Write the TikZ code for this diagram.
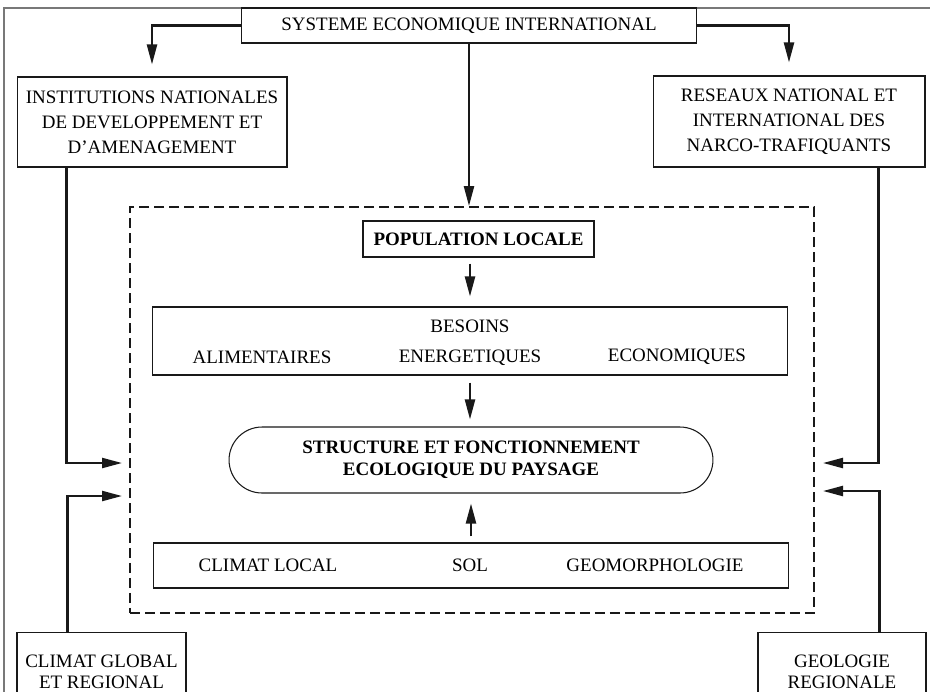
\documentclass[tikz,border=0pt]{standalone}
\usepackage{fontspec}
\setmainfont{Liberation Serif}
\usepackage{tikz}
\usetikzlibrary{arrows.meta, positioning, calc}
\definecolor{inkdark}{RGB}{25,25,25}
\definecolor{framegray}{RGB}{120,120,120}
\newcommand{\figfont}{\fontsize{10.8}{14.2}\selectfont}
\tikzset{
  box/.style={rectangle, draw=inkdark, line width=0.6pt, align=center,
    font=\figfont, inner sep=2pt},
  boldbox/.style={box, font=\figfont\bfseries},
  stadium/.style={box, font=\figfont\bfseries, rounded corners=0.66cm},
  zonebox/.style={rectangle, draw=inkdark, line width=1.1pt,
    dash pattern=on 0.2cm off 0.1cm},
  txt/.style={align=center, font=\figfont, inner sep=1pt},
  arrow/.style={-{Triangle[length=0.4cm, width=0.2cm]}, line width=1.3pt, color=inkdark}
}
\begin{document}
\begin{tikzpicture}[x=0.02cm, y=-0.02cm]
  \useasboundingbox (0,0) rectangle (930,691);
  \clip (0,0) rectangle (930,691);

  % Outer frame
  \draw[framegray, line width=0.6pt] (4,760) -- (4,8) -- (960,8);

  % Top level
  \node[box, fill=white, minimum width=9.12cm, minimum height=0.7cm] (sys) at (469,25.5)
    {SYSTEME ECONOMIQUE INTERNATIONAL};
  \node[box, minimum width=5.4cm, minimum height=1.8cm] (inst) at (152,122)
    {INSTITUTIONS NATIONALES\\DE DEVELOPPEMENT ET\\D’AMENAGEMENT};
  \node[box, minimum width=5.44cm, minimum height=1.82cm] (narco) at (789,121.5)
    {RESEAUX NATIONAL ET\\INTERNATIONAL DES\\NARCO-TRAFIQUANTS};

  % Local zone
  \node[zonebox, minimum width=13.68cm, minimum height=8.12cm] (zone) at (472,410) {};
  \node[boldbox, minimum width=4.62cm, minimum height=0.72cm] (pop) at (478.5,239) {POPULATION LOCALE};

  \node[box, minimum width=12.72cm, minimum height=1.36cm] (bes) at (470,341) {};
  \node[txt] (besA) at (262,357) {ALIMENTAIRES};
  \node[txt] (besB) at (470,343) {BESOINS\\[2.8pt]ENERGETIQUES};
  \node[txt] (besC) at (677,357) {ECONOMIQUES};

  \node[stadium, minimum width=9.68cm, minimum height=1.32cm] (eco) at (471,460)
    {STRUCTURE ET FONCTIONNEMENT\\[-1.5pt]ECOLOGIQUE DU PAYSAGE};

  \node[box, minimum width=12.72cm, minimum height=0.9cm] (sol) at (471,565.5) {};
  \node[txt] (solA) at (268,565) {CLIMAT LOCAL};
  \node[txt] (solB) at (470,565) {SOL};
  \node[txt] (solC) at (655,565) {GEOMORPHOLOGIE};

  % Bottom level
  \node[box, minimum width=3.38cm, minimum height=1.58cm] (climg) at (101.5,672)
    {CLIMAT GLOBAL\\[-2.5pt]ET REGIONAL};
  \node[box, minimum width=3.36cm, minimum height=1.58cm] (geol) at (842,672)
    {GEOLOGIE\\[-2.5pt]REGIONALE};

  % Entry points on the zone
  \coordinate (zinA) at (130,463);
  \coordinate (zinB) at (130,496);
  \coordinate (zinC) at (814,463);
  \coordinate (zinD) at (814,491);

  % Arrows
  \draw[arrow, shorten >=0.24cm] (sys.west) -| (inst.north);
  \draw[arrow, shorten >=0.26cm] (sys.east) -| (narco.north);
  \draw[arrow] (sys.south) -- (sys.south |- zone.north);

  \draw[arrow, shorten <=0.12cm, shorten >=0.2cm] (pop.south -| bes.north) -- (bes.north);
  \draw[arrow, shorten <=0.14cm, shorten >=0.14cm] (bes.south) -- (bes.south |- eco.north);
  \draw[arrow, shorten <=0.12cm, shorten >=0.2cm] (sol.north) -- (sol.north |- eco.south);

  \draw[arrow, shorten >=0.16cm] ([xshift=1cm]inst.south west) |- (zinA);
  \draw[arrow, shorten >=0.16cm] ([xshift=1.02cm]climg.north west) |- (zinB);
  \draw[arrow, shorten >=0.18cm] ([xshift=-0.94cm]narco.south east) |- (zinC);
  \draw[arrow, shorten >=0.18cm] ([xshift=-0.94cm]geol.north east) |- (zinD);
\end{tikzpicture}
\end{document}
